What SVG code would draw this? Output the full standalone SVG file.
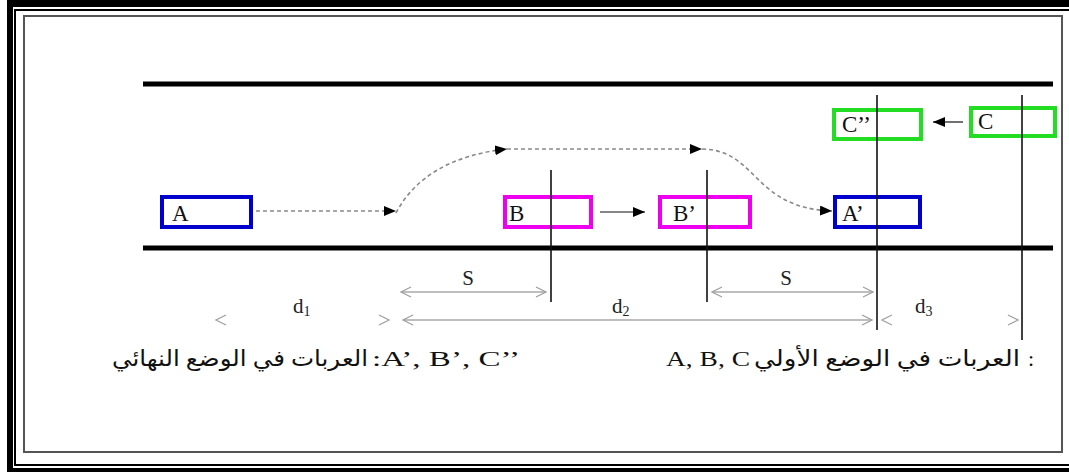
<svg xmlns="http://www.w3.org/2000/svg" width="1069" height="472" viewBox="0 0 1069 472">
<style>
.box{fill:none;stroke-width:4}
.lbl{font-family:"Liberation Serif","DejaVu Serif",serif;font-size:23px;fill:#111}
.dim{font-family:"Liberation Serif","DejaVu Serif",serif;font-size:21px;fill:#222}
.sub{font-size:14px}
.txt{font-family:"Liberation Serif","DejaVu Sans",serif;font-size:22px;fill:#111}
.road{stroke:#000;stroke-width:5}
.vline{stroke:#111;stroke-width:1.6}
.dash{fill:none;stroke:#8a8a8a;stroke-width:1.6;stroke-dasharray:4 3}
.solid{fill:none;stroke:#111;stroke-width:1.2}
.dimline{fill:none;stroke:#a8a8a8;stroke-width:1.3}
.chev{fill:none;stroke:#a0a0a0;stroke-width:1.3}
</style>
<defs>
<marker id="ah" markerUnits="userSpaceOnUse" markerWidth="13" markerHeight="10" refX="12" refY="5" orient="auto">
<path d="M0,0 L12,5 L0,10 z" fill="#000"/>
</marker>
<marker id="ch" markerUnits="userSpaceOnUse" markerWidth="12" markerHeight="12" refX="11" refY="6" orient="auto-start-reverse">
<path d="M1,1 L11,6 L1,11" fill="none" stroke="#a0a0a0" stroke-width="1.3"/>
</marker>
</defs>
<rect width="1069" height="472" fill="#fff"/>
<g id="frame">
<rect x="7" y="0" width="1062" height="7" fill="#000"/>
<rect x="7" y="0" width="6" height="472" fill="#000"/>
<rect x="7" y="468" width="1062" height="4" fill="#000"/>
<rect x="15" y="10" width="1070" height="455" fill="none" stroke="#000" stroke-width="2"/>
<rect x="24" y="16" width="1038" height="436" fill="none" stroke="#555" stroke-width="2"/>
</g>
<g id="road">
<line class="road" x1="143" y1="84" x2="1053" y2="84"/>
<line class="road" x1="143" y1="248" x2="1053" y2="248"/>
</g>
<g id="node-A"><rect class="box" x="162" y="197" width="89" height="30" stroke="#0000cc"/><text class="lbl" x="172" y="221">A</text></g>
<g id="node-B"><rect class="box" x="505" y="197" width="86" height="30" stroke="#ee00ee"/><text class="lbl" x="509" y="221">B</text></g>
<g id="node-B2"><rect class="box" x="660" y="197" width="90" height="30" stroke="#ee00ee"/><text class="lbl" x="673" y="221">B’</text></g>
<g id="node-A2"><rect class="box" x="835" y="197" width="85" height="30" stroke="#0000cc"/><text class="lbl" x="842" y="221">A’</text></g>
<g id="node-C2"><rect class="box" x="834" y="110" width="87" height="29" stroke="#22dd22"/><text class="lbl" x="842" y="132">C’’</text></g>
<g id="node-C"><rect class="box" x="971" y="108" width="84" height="28" stroke="#22dd22"/><text class="lbl" x="978" y="129">C</text></g>
<g id="connectors">
<line class="vline" x1="551" y1="170" x2="551" y2="302"/>
<line class="vline" x1="707" y1="170" x2="707" y2="302"/>
<line class="vline" x1="877" y1="95" x2="877" y2="330"/>
<line class="vline" x1="1022" y1="95" x2="1022" y2="340"/>
<path class="dash" d="M256,211 L396,211" marker-end="url(#ah)"/>
<path class="dash" d="M396,213 Q425,158 507,149" marker-end="url(#ah)"/>
<path class="dash" d="M507,149 L702,149" marker-end="url(#ah)"/>
<path class="dash" d="M702,149 C758,150 752,208 832,211" marker-end="url(#ah)"/>
<path class="solid" d="M600,212 L645,212" marker-end="url(#ah)"/>
<path class="solid" d="M963,122 L933,122" marker-end="url(#ah)"/>
<path class="dimline" d="M401,292 L546,292" marker-start="url(#ch)" marker-end="url(#ch)"/>
<path class="dimline" d="M712,292 L873,292" marker-start="url(#ch)" marker-end="url(#ch)"/>
<path class="dimline" d="M403,320 L872,320" marker-start="url(#ch)" marker-end="url(#ch)"/>
<path class="chev" d="M226,315 L216,320 L226,325"/>
<path class="chev" d="M379,315 L389,320 L379,325"/>
<path class="chev" d="M892,315 L882,320 L892,325"/>
<path class="chev" d="M1008,315 L1018,320 L1008,325"/>
</g>
<g id="labels">
<text class="dim" x="468" y="285" text-anchor="middle">S</text>
<text class="dim" x="786" y="285" text-anchor="middle">S</text>
<text class="dim" x="293" y="313">d<tspan class="sub" dy="3">1</tspan></text>
<text class="dim" x="612" y="313">d<tspan class="sub" dy="3">2</tspan></text>
<text class="dim" x="915" y="313">d<tspan class="sub" dy="3">3</tspan></text>
<text class="txt" x="368" y="366" text-anchor="end" textLength="256" lengthAdjust="spacingAndGlyphs">العربات في الوضع النهائي</text>
<text class="txt" x="372" y="366" textLength="148" lengthAdjust="spacingAndGlyphs">:A’, B’, C’’</text>
<text class="txt" x="666" y="366" textLength="84" lengthAdjust="spacingAndGlyphs">A, B, C</text>
<text class="txt" x="1020" y="366" text-anchor="end" textLength="266" lengthAdjust="spacingAndGlyphs">العربات في الوضع الأولي</text>
<text class="txt" x="1028" y="366">:</text>
</g>
</svg>
